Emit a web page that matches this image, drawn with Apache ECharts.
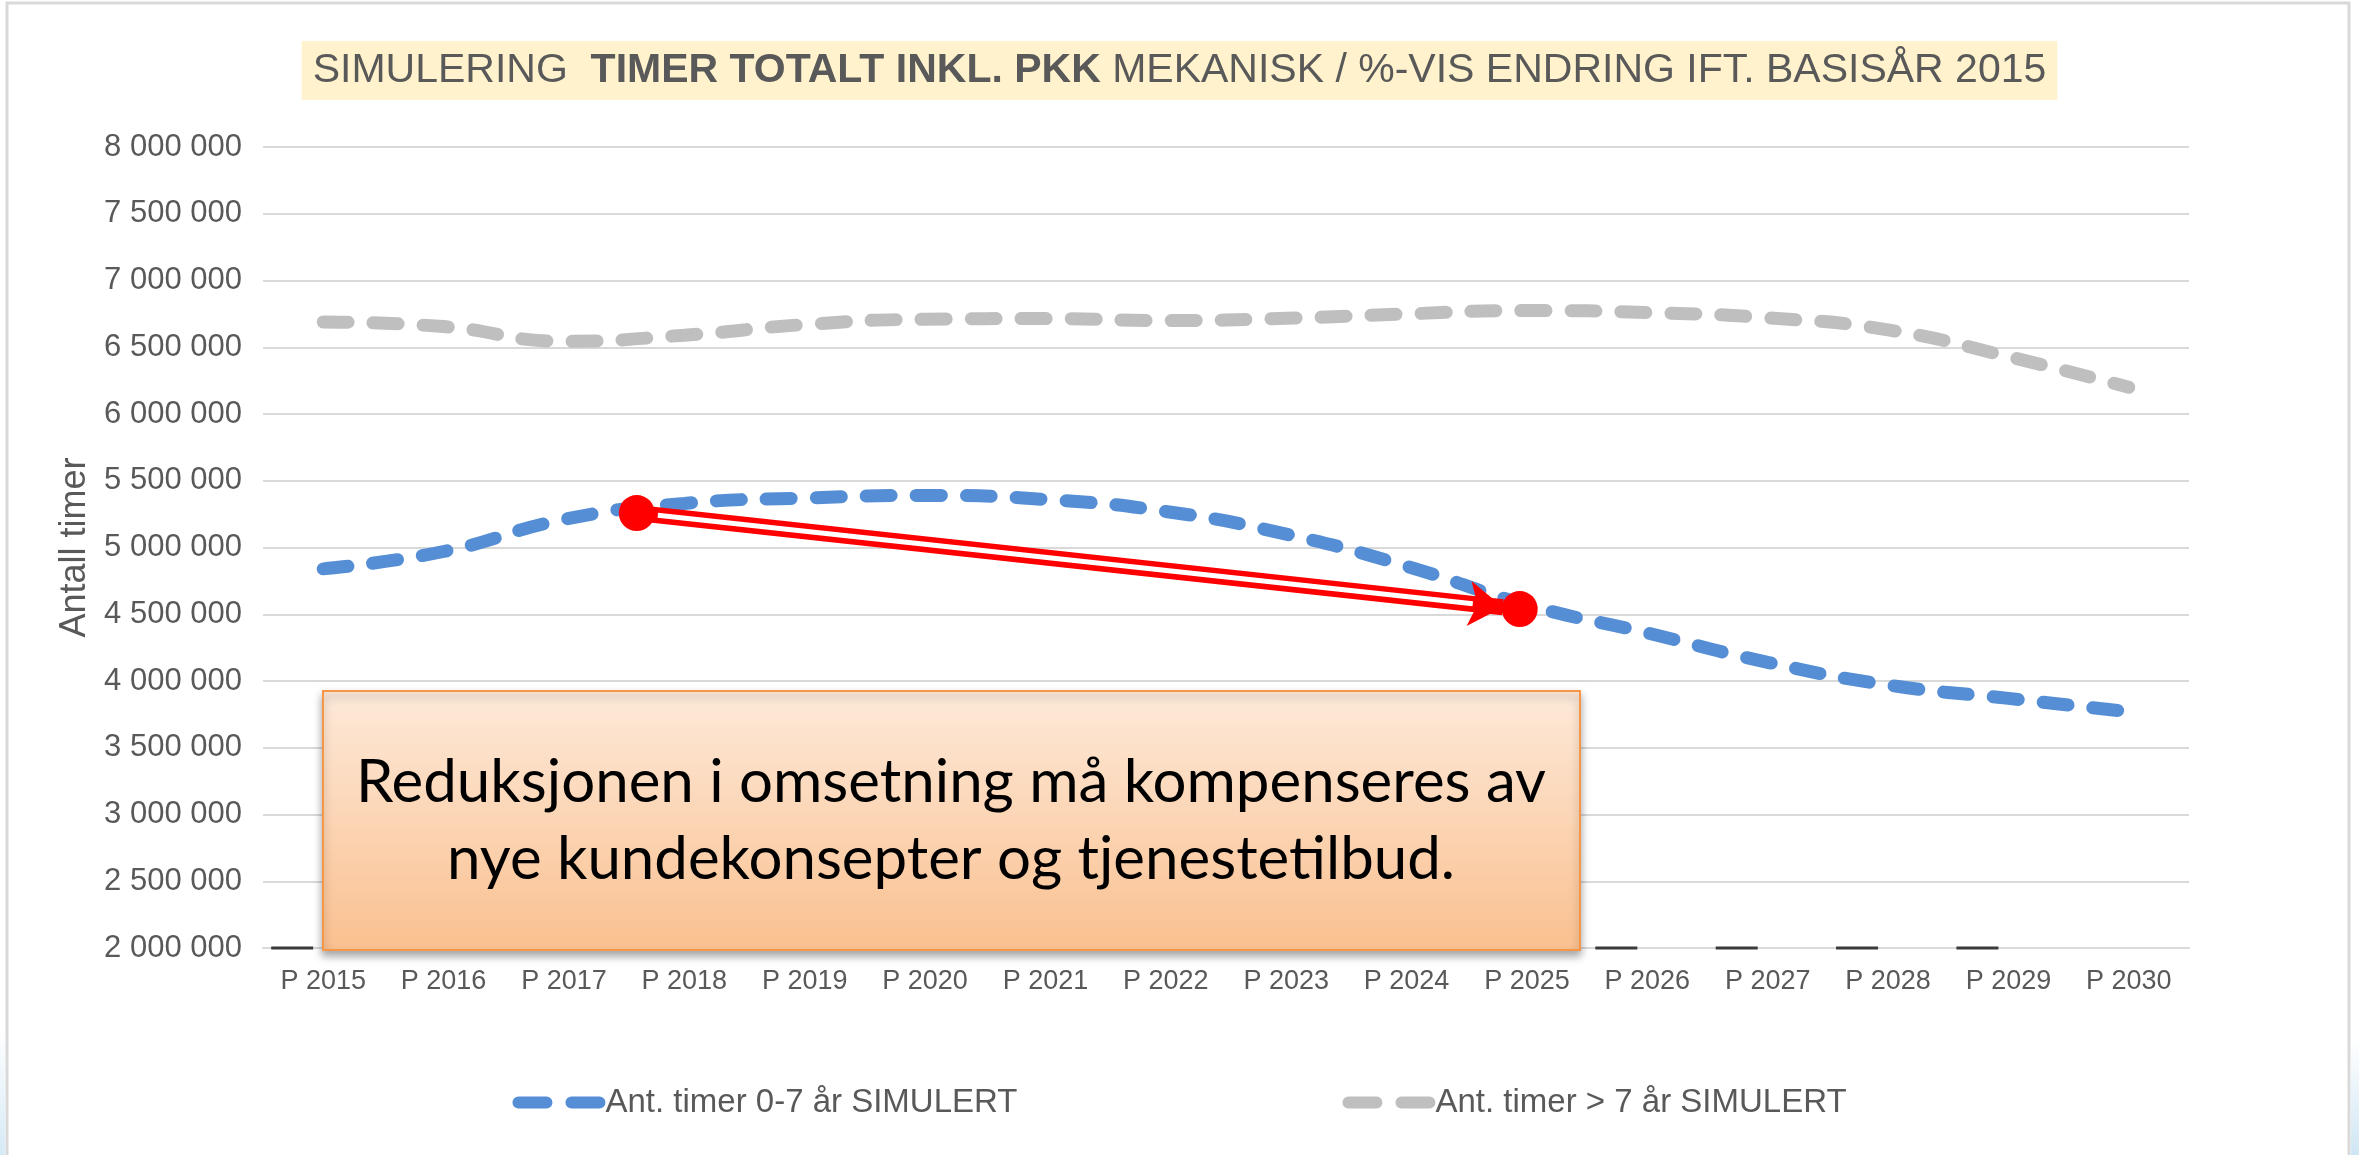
<!DOCTYPE html>
<html>
<head>
<meta charset="utf-8">
<script src="https://cdn.jsdelivr.net/npm/echarts@6/dist/echarts.min.js"></script>
<style>
  html, body { margin: 0; padding: 0; background: #fff; }
  #main { width: 2359px; height: 1155px; }
</style>
</head>
<body>
<div id="main"></div>
<script>
// kategorier og verdier
const categories = ['P 2015', 'P 2016', 'P 2017', 'P 2018', 'P 2019', 'P 2020', 'P 2021', 'P 2022',
  'P 2023', 'P 2024', 'P 2025', 'P 2026', 'P 2027', 'P 2028', 'P 2029', 'P 2030'];
const timer0til7 = [4840000, 4970000, 5210000, 5330000, 5370000, 5390000, 5360000, 5270000,
  5100000, 4860000, 4570000, 4360000, 4140000, 3970000, 3870000, 3770000];
const timerOver7 = [6690000, 6655000, 6545000, 6590000, 6670000, 6710000, 6715000, 6700000,
  6717000, 6750000, 6775000, 6760000, 6720000, 6630000, 6430000, 6200000];
// små svarte streker på bunnlinja (serie som ligger på/under 2 000 000)
const bunnStreker = [2000000, 2000000, 2000000, 2000000, 2000000, 2000000, 2000000, 2000000,
  2000000, 2000000, 2000000, 2000000, 2000000, 2000000, 2000000, '-'];
const yTicks = { min: 2000000, max: 8000000, interval: 500000 };
// annotasjon: to røde punkter og pil (x = kategoriindeks)
const rodePunkter = [[2.605, 5258000], [9.94, 4539000]];
const pilFra = [2.605, 5258000];
const pilTil = [9.8, 4553000];
const pilHvitFra = [2.78, 5241000];
const pilHvitTil = [9.55, 4578000];

const serieNavn = ['Ant. timer 0-7 år SIMULERT', 'Ant. timer > 7 år SIMULERT'];
const font = '"Liberation Sans", Arial, sans-serif';
const grey = '#595959';

function fmt(v) {
  return String(v).replace(/\B(?=(\d{3})+(?!\d))/g, ' ');
}

const chart = echarts.init(document.getElementById('main'));
chart.setOption({
  backgroundColor: '#fff',
  animation: false,
  title: {
    text: '{n|SIMULERING  }{b|TIMER TOTALT INKL. PKK}{n| MEKANISK / %-VIS ENDRING IFT. BASISÅR 2015}',
    left: 'center',
    top: 41,
    backgroundColor: '#FFF2CC',
    padding: [9, 11],
    textStyle: {
      fontWeight: 'normal',
      rich: {
        n: { fontFamily: font, fontSize: 41, color: grey, fontWeight: 'normal' },
        b: { fontFamily: font, fontSize: 41, color: grey, fontWeight: 'bold' }
      }
    }
  },
  grid: { left: 263, right: 170, top: 147, bottom: 207 },
  legend: {
    bottom: 31,
    left: 'center',
    itemGap: 325,
    itemWidth: 93,
    itemHeight: 13,
    icon: 'path://M6,0H34A6,6 0 0 1 34,12H6A6,6 0 0 1 6,0Z M59,0H87A6,6 0 0 1 87,12H59A6,6 0 0 1 59,0Z',
    data: serieNavn,
    textStyle: { fontFamily: font, fontSize: 33, color: grey, padding: [0, 0, 0, -5] }
  },
  xAxis: [
    {
      type: 'category',
      data: categories,
      boundaryGap: true,
      axisLine: { lineStyle: { color: '#D9D9D9', width: 2 } },
      axisTick: { show: false },
      axisLabel: { fontFamily: font, fontSize: 27, color: grey, margin: 20 }
    },
    { type: 'value', min: -0.5, max: 15.5, show: false }
  ],
  yAxis: {
    type: 'value',
    min: yTicks.min,
    max: yTicks.max,
    interval: yTicks.interval,
    name: 'Antall timer',
    nameLocation: 'middle',
    nameGap: 166,
    nameTextStyle: { fontFamily: font, fontSize: 36, color: grey },
    axisLine: { show: false },
    axisTick: { show: false },
    axisLabel: { fontFamily: font, fontSize: 31, color: grey, margin: 21, formatter: fmt },
    splitLine: { lineStyle: { color: '#D9D9D9', width: 2 } }
  },
  series: [
    {
      name: 'bunn',
      type: 'scatter',
      data: bunnStreker,
      symbol: 'rect',
      symbolSize: [42, 3],
      symbolOffset: [-31, 0],
      itemStyle: { color: '#3a3a3a', opacity: 1 },
      silent: true,
      z: 3
    },
    {
      name: serieNavn[0],
      type: 'line',
      data: timer0til7,
      smooth: true,
      showSymbol: false,
      color: '#558ED5',
      lineStyle: { width: 13, type: [25, 25], cap: 'round', color: '#558ED5' }
    },
    {
      name: serieNavn[1],
      type: 'line',
      data: timerOver7,
      smooth: true,
      showSymbol: false,
      color: '#BFBFBF',
      lineStyle: { width: 13, type: [25, 25], cap: 'round', color: '#BFBFBF' }
    },
    {
      type: 'lines',
      coordinateSystem: 'cartesian2d',
      xAxisIndex: 1,
      yAxisIndex: 0,
      symbol: ['none', 'arrow'],
      symbolSize: 34,
      lineStyle: { color: '#FF0000', width: 16, opacity: 1, curveness: 0 },
      data: [{ coords: [pilFra, pilTil] }],
      silent: true,
      z: 5
    },
    {
      type: 'lines',
      coordinateSystem: 'cartesian2d',
      xAxisIndex: 1,
      yAxisIndex: 0,
      symbol: ['none', 'none'],
      lineStyle: { color: '#FFFFFF', width: 5, opacity: 1, curveness: 0 },
      data: [{ coords: [pilHvitFra, pilHvitTil] }],
      silent: true,
      z: 6
    },
    {
      type: 'scatter',
      xAxisIndex: 1,
      yAxisIndex: 0,
      data: rodePunkter,
      symbol: 'circle',
      symbolSize: 36,
      itemStyle: { color: '#FF0000', opacity: 1 },
      silent: true,
      z: 7
    }
  ],
  graphic: [
    {
      type: 'rect',
      z: 100,
      shape: { x: 7, y: 3, width: 2342, height: 1170 },
      style: { fill: 'none', stroke: '#D9D9D9', lineWidth: 3 },
      silent: true
    },
    {
      type: 'rect',
      z: 101,
      shape: { x: 2351, y: 1040, width: 8, height: 115 },
      style: {
        fill: { type: 'linear', x: 0, y: 0, x2: 0, y2: 1,
          colorStops: [{ offset: 0, color: '#FFFFFF' }, { offset: 1, color: '#CFE6F4' }] }
      },
      silent: true
    },
    {
      type: 'rect',
      z: 101,
      shape: { x: 0, y: 1030, width: 5, height: 125 },
      style: {
        fill: { type: 'linear', x: 0, y: 0, x2: 0, y2: 1,
          colorStops: [{ offset: 0, color: '#FFFFFF' }, { offset: 1, color: '#D6EAF6' }] }
      },
      silent: true
    },
    {
      type: 'rect',
      z: 100,
      shape: { x: 323, y: 691, width: 1257, height: 259 },
      style: {
        fill: { type: 'linear', x: 0, y: 0, x2: 0, y2: 1,
          colorStops: [{ offset: 0, color: '#FDEADA' }, { offset: 1, color: '#FAC08F' }] },
        stroke: '#F79646',
        lineWidth: 2,
        shadowBlur: 8,
        shadowOffsetY: 5,
        shadowColor: 'rgba(0,0,0,0.35)'
      },
      silent: true
    },
    {
      type: 'text',
      z: 102,
      style: {
        x: 951,
        y: 821,
        text: 'Reduksjonen i omsetning må kompenseres av\nnye kundekonsepter og tjenestetilbud.',
        fontFamily: 'Lato, "Open Sans", sans-serif',
        fontSize: 60,
        lineHeight: 77,
        fill: '#000',
        align: 'center',
        verticalAlign: 'middle'
      },
      silent: true
    }
  ]
});
</script>
</body>
</html>
